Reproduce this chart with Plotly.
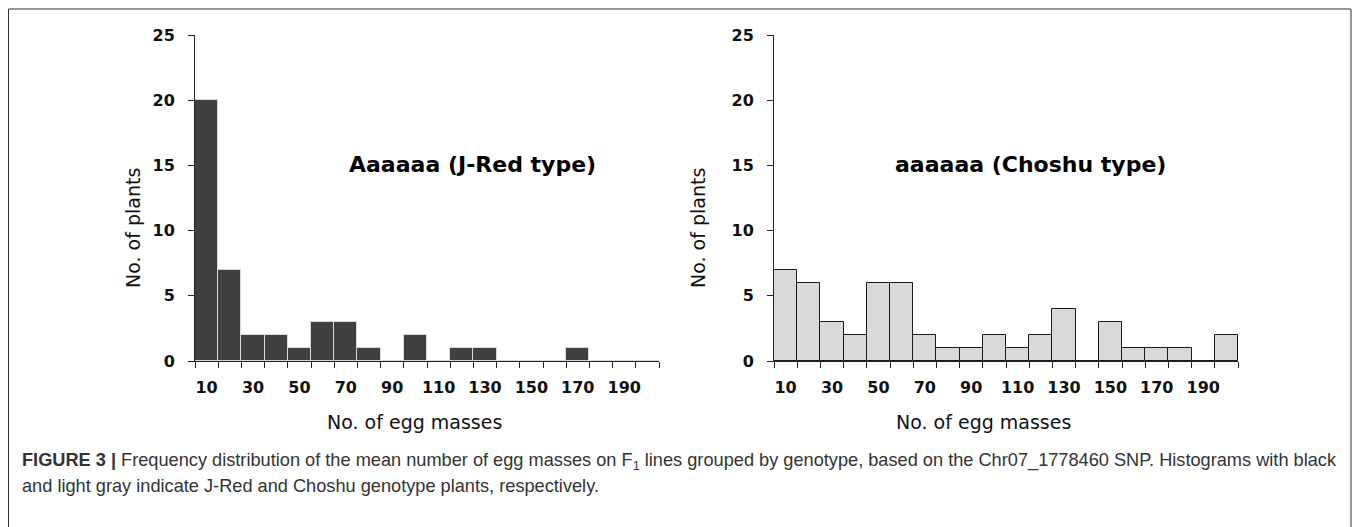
import plotly.graph_objects as go

# ---- data ----
bins = [10, 20, 30, 40, 50, 60, 70, 80, 90, 100, 110, 120, 130, 140, 150, 160, 170, 180, 190, 200]
jred_counts = [20, 7, 2, 2, 1, 3, 3, 1, 0, 2, 0, 1, 1, 0, 0, 0, 1, 0, 0, 0]
choshu_counts = [7, 6, 3, 2, 6, 6, 2, 1, 1, 2, 1, 2, 4, 0, 3, 1, 1, 1, 0, 2]
x_tick_vals = [10, 30, 50, 70, 90, 110, 130, 150, 170, 190]
x_tick_labels = ["10", "30", "50", "70", "90", "110", "130", "150", "170", "190"]
bin_edges = [5, 15, 25, 35, 45, 55, 65, 75, 85, 95, 105, 115, 125, 135, 145, 155, 165, 175, 185, 195, 205]
y_tick_vals = [0, 5, 10, 15, 20, 25]
left_label = "Aaaaaa (J-Red type)"
right_label = "aaaaaa (Choshu type)"
x_title = "No. of egg masses"
y_title = "No. of plants"
caption_line1 = ("<b>FIGURE 3 |</b> Frequency distribution of the mean number of egg masses on F<sub>1</sub> "
                 "lines grouped by genotype, based on the Chr07_1778460 SNP. Histograms with black")
caption_line2 = "and light gray indicate J-Red and Choshu genotype plants, respectively."

W, H = 1358, 527


def px(x):
    return x / W


def py(y):
    return 1 - y / H


fig = go.Figure()
fig.add_trace(go.Bar(x=bins, y=jred_counts, width=10, xaxis="x", yaxis="y",
                     marker=dict(color="#404040", line=dict(color="#d8d8d8", width=1)),
                     showlegend=False))
fig.add_trace(go.Bar(x=bins, y=choshu_counts, width=10, xaxis="x2", yaxis="y2",
                     marker=dict(color="#d9d9d9", line=dict(color="#1a1a1a", width=1)),
                     showlegend=False))

tick_font = dict(family="DejaVu Sans", size=16, color="#111111", weight="bold")


def xaxis_cfg(d0, d1, anchor):
    return dict(domain=[px(d0), px(d1)], anchor=anchor, range=[5, 205], automargin=False,
                tickmode="array", tickvals=x_tick_vals, ticktext=x_tick_labels,
                ticks="outside", ticklen=12, tickcolor="rgba(0,0,0,0)",
                tickfont=tick_font, showline=True, linecolor="#222222", linewidth=1,
                showgrid=False, zeroline=False, fixedrange=True,
                minor=dict(tickmode="array", tickvals=bin_edges, ticks="outside",
                           ticklen=6, tickcolor="#222222", tickwidth=1, showgrid=False))


def yaxis_cfg(anchor):
    return dict(domain=[py(361), py(35)], anchor=anchor, range=[0, 25], automargin=False,
                tickmode="array", tickvals=y_tick_vals,
                ticks="outside", ticklen=6, tickcolor="#222222", tickwidth=1,
                tickfont=tick_font, showline=True, linecolor="#222222", linewidth=1,
                showgrid=False, zeroline=False, fixedrange=True, ticklabelstandoff=10)


fig.update_layout(
    width=W, height=H, autosize=False,
    margin=dict(l=0, r=0, t=0, b=0, pad=0, autoexpand=False),
    paper_bgcolor="white", plot_bgcolor="white",
    bargap=0,
    xaxis=xaxis_cfg(195, 659, "y"),
    yaxis=yaxis_cfg("x"),
    xaxis2=xaxis_cfg(774, 1238, "y2"),
    yaxis2=yaxis_cfg("x2"),
)

ann = []
title_font = dict(family="DejaVu Sans", size=19, color="#111111")
label_font = dict(family="DejaVu Sans", size=22, color="#000000", weight="bold")
ann.append(dict(text=left_label, x=px(472), y=py(164), xref="paper", yref="paper",
                xanchor="center", yanchor="middle", showarrow=False, font=label_font))
ann.append(dict(text=right_label, x=px(1030), y=py(164), xref="paper", yref="paper",
                xanchor="center", yanchor="middle", showarrow=False, font=label_font))
for cx in (414, 983):
    ann.append(dict(text=x_title, x=px(cx), y=py(422), xref="paper", yref="paper",
                    xanchor="center", yanchor="middle", showarrow=False, font=title_font))
for cx in (133, 698):
    ann.append(dict(text=y_title, x=px(cx), y=py(228), xref="paper", yref="paper",
                    xanchor="center", yanchor="middle", showarrow=False, font=title_font,
                    textangle=-90))
cap_font = dict(family="Liberation Sans", size=18.2, color="#333333")
ann.append(dict(text=caption_line1, x=px(20), y=py(461), xref="paper", yref="paper",
                xanchor="left", yanchor="middle", showarrow=False, font=cap_font))
ann.append(dict(text=caption_line2, x=px(20), y=py(486), xref="paper", yref="paper",
                xanchor="left", yanchor="middle", showarrow=False, font=cap_font))
fig.update_layout(annotations=ann)

fig.add_shape(type="rect", xref="paper", yref="paper",
              x0=px(8.5), x1=px(1351), y0=py(545), y1=py(9),
              line=dict(color="#333333", width=1), fillcolor="rgba(0,0,0,0)", layer="above")

fig.write_html("out.html", config={"displayModeBar": False},
               post_script="document.body.style.margin='0px';document.body.style.overflow='hidden';")
